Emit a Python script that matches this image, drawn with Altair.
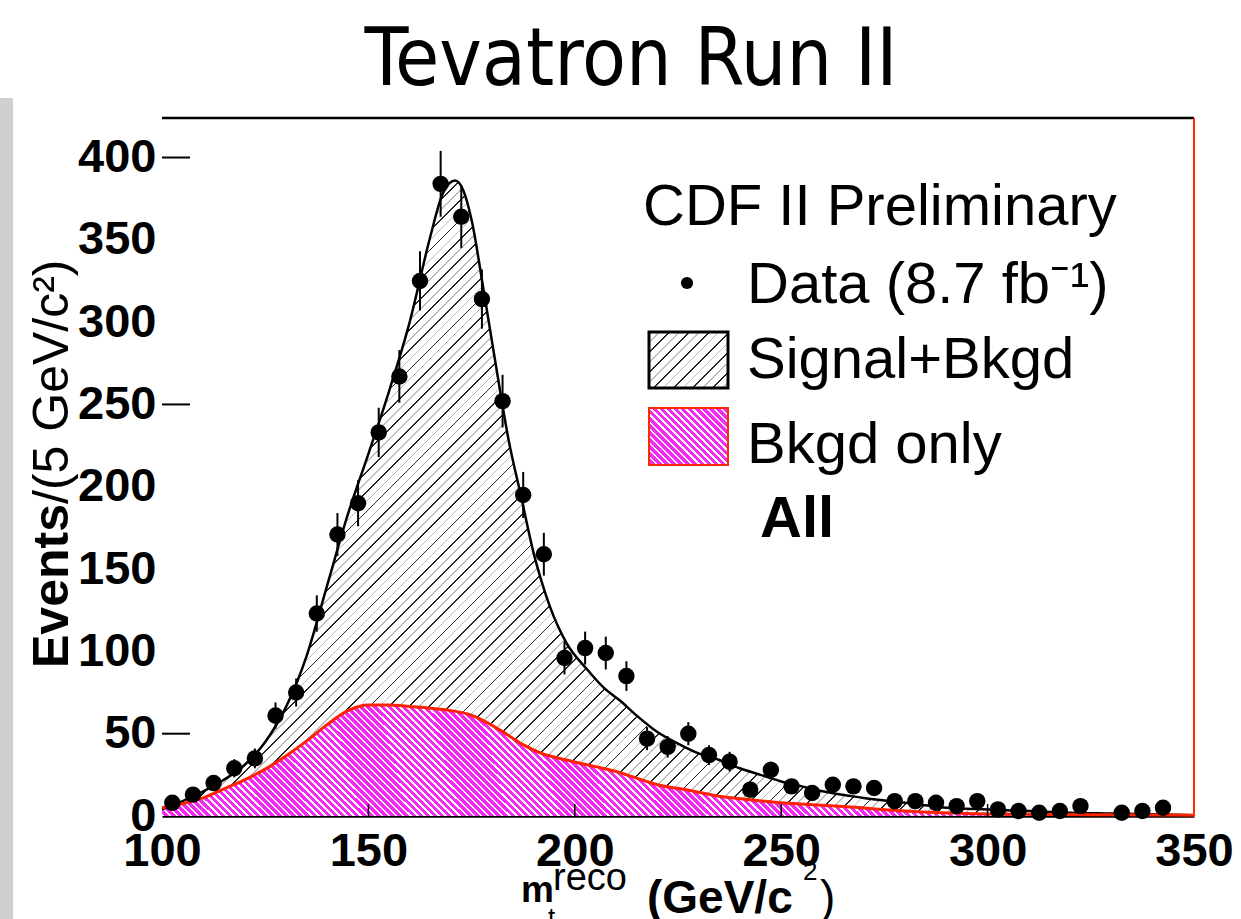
import math
import altair as alt
import pandas as pd

# ---------------- data ----------------
bin_centers = [102.5, 107.5, 112.5, 117.5, 122.5, 127.5, 132.5, 137.5, 142.5, 147.5,
               152.5, 157.5, 162.5, 167.5, 172.5, 177.5, 182.5, 187.5, 192.5, 197.5,
               202.5, 207.5, 212.5, 217.5, 222.5, 227.5, 232.5, 237.5, 242.5, 247.5,
               252.5, 257.5, 262.5, 267.5, 272.5, 277.5, 282.5, 287.5, 292.5, 297.5,
               302.5, 307.5, 312.5, 317.5, 322.5, 332.5, 337.5, 342.5]
counts = [8, 13, 20, 29, 35, 61, 75, 123, 171, 190,
          233, 267, 325, 384, 364, 314, 252, 195, 159, 96,
          102, 99, 85, 47, 42, 50, 37, 33, 16, 28,
          18, 14, 19, 18, 17, 9, 9, 8, 6, 9,
          4, 3, 2, 3, 6, 2, 3, 5]
errors = [3, 3.5, 4.5, 5.5, 6, 8, 8.5, 11, 13, 14,
          15, 16, 18, 20, 19, 18, 16, 14, 13, 10,
          10, 10, 9, 7, 6.5, 7, 6, 6, 4, 5,
          4, 4, 4, 4, 4, 3, 3, 3, 2.5, 3,
          2, 2, 1.5, 2, 2.5, 1.5, 2, 2]

sb_mass = [100, 105, 110, 115, 120, 125, 130, 135, 140, 145, 150, 155, 160, 165, 168,
           171, 173, 175, 178, 181, 184, 187, 190, 192, 194, 198, 203, 207, 211, 215,
           220, 225, 230, 235, 240, 245, 250, 255, 260, 270, 280, 290, 300, 310, 320,
           330, 340, 350]
sb_events = [4, 9, 15, 22, 31, 45, 66, 97, 140, 183, 220, 258, 300, 352, 378,
             386, 380, 362, 318, 272, 228, 194, 160, 142, 127, 105, 89, 78, 70, 61,
             51, 44, 38, 34, 29, 25, 21, 18, 15, 11, 8, 5, 4, 3, 2,
             1.5, 1, 0.5]

bkg_mass = [100, 105, 110, 115, 120, 125, 130, 135, 140, 145, 150, 155, 160, 165, 170,
            174, 177, 182, 187, 192, 198, 205, 210, 215, 220, 227, 235, 242, 250, 257,
            267, 276, 284, 295, 310, 330, 350]
bkg_events = [5, 7.5, 11, 16.5, 22, 28.5, 36.5, 45.5, 55.5, 64, 67.5, 67.5, 66.5, 65.5, 64,
              62, 59, 52, 44, 38, 34, 30, 27, 23, 19, 16, 12, 10, 8, 7,
              5.5, 3.6, 2.4, 1.5, 1, 0.7, 0.5]

x_tick_values = [100, 150, 200, 250, 300, 350]
y_tick_values = [0, 50, 100, 150, 200, 250, 300, 350, 400]
y_inner_ticks = [50, 250, 400]
x_inner_ticks = [150, 200, 250, 300]

# ---------------- layout ----------------
W, H = 1032, 698
X_DOMAIN = [100, 350]
Y_DOMAIN = [0, 424]
SANS = "Liberation Sans"
xs = alt.Scale(domain=X_DOMAIN, nice=False, zero=False)
ys = alt.Scale(domain=Y_DOMAIN, nice=False, zero=False)

points = pd.DataFrame({"m": bin_centers, "n": counts, "e": errors})
points["lo"] = points["n"] - points["e"]
points["hi"] = points["n"] + points["e"]
sb = pd.DataFrame({"m": sb_mass, "n": sb_events})
bkg = pd.DataFrame({"m": bkg_mass, "n": bkg_events})
one = pd.DataFrame({"k": [0]})


def stripe_gradient(bw, bh, period, bands, bg, direction="/"):
    s2 = math.sqrt(2)
    total = bw + bh
    a = total * bw / (bw * bw + bh * bh)
    if direction == "/":
        x1, y1, x2, y2 = 0, 0, a, a * bh / bw
    else:
        x1, y1, x2, y2 = 0, 1, a, 1 - a * bh / bw
    stops = []

    def add(t, c):
        if 0 <= t <= 1:
            stops.append(alt.GradientStop(offset=round(t, 6), color=c))

    add(0, bg)
    n = int(total / (period * s2)) + 2
    for k in range(n):
        base = k * period * s2
        for off, w, c in bands:
            t0 = (base + off * s2) / total
            t1 = (base + (off + w) * s2) / total
            add(t0, bg)
            add(t0, c)
            add(t1, c)
            add(t1, bg)
    add(1, bg)
    return alt.LinearGradient(gradient="linear", stops=stops, x1=x1, y1=y1, x2=x2, y2=y2)


sb_box_h = 386 / Y_DOMAIN[1] * H
bkg_box_h = 68 / Y_DOMAIN[1] * H
hatch_bands = [(0, 1.3, "#262626"), (7, 1.2, "#bdbdbd")]
pink_bands = [(0, 1.8, "#ffffff")]
sb_fill = stripe_gradient(W, sb_box_h, 14, hatch_bands, "#ffffff", "/")
bkg_fill = stripe_gradient(W, bkg_box_h, 5, pink_bands, "#f52af5", "\\")
sb_leg_fill = stripe_gradient(79, 56, 14, hatch_bands, "#ffffff", "/")
bkg_leg_fill = stripe_gradient(79, 57, 5, pink_bands, "#f52af5", "\\")

axis_x = alt.Axis(values=x_tick_values, title=None, labelFont=SANS, labelFontWeight="bold",
                  labelFontSize=47, labelColor="black", labelPadding=12, tickSize=0,
                  domainColor="black", domainWidth=2.5, grid=False, labelFlush=False,
                  labelOverlap=False, format="d")
axis_y = alt.Axis(values=y_tick_values, title=None, labelFont=SANS, labelFontWeight="bold",
                  labelFontSize=47, labelColor="black", labelPadding=6, tickSize=0,
                  domain=False, grid=False, labelFlush=False, labelOverlap=False, format="d")


def X(field):
    return alt.X(field, scale=xs, axis=axis_x)


def Y(field):
    return alt.Y(field, scale=ys, axis=axis_y)


strip = alt.Chart(one).mark_rect(color="#cfcfcf").encode(
    x=alt.value(-162), x2=alt.value(-149), y=alt.value(-20), y2=alt.value(H + 103))

sb_area = alt.Chart(sb).mark_area(fill=sb_fill, interpolate="monotone").encode(
    x=X("m:Q"), y=Y("n:Q"))
bkg_area = alt.Chart(bkg).mark_area(fill=bkg_fill, interpolate="monotone").encode(
    x=X("m:Q"), y=Y("n:Q"))
sb_line = alt.Chart(sb).mark_line(color="black", strokeWidth=2.5, interpolate="monotone").encode(
    x=X("m:Q"), y=Y("n:Q"))
bkg_line = alt.Chart(bkg).mark_line(color="#ff2200", strokeWidth=3, interpolate="monotone").encode(
    x=X("m:Q"), y=Y("n:Q"))

yt = alt.Chart(pd.DataFrame({"v": y_inner_ticks})).mark_rule(color="black", strokeWidth=2).encode(
    y=Y("v:Q"), x=alt.value(0), x2=alt.value(28))
xt = alt.Chart(pd.DataFrame({"v": x_inner_ticks})).mark_rule(color="black", strokeWidth=1.5).encode(
    x=X("v:Q"), y=alt.value(H), y2=alt.value(H - 12))

top_frame = alt.Chart(one).mark_rule(color="black", strokeWidth=2.5).encode(
    x=alt.value(0), x2=alt.value(W), y=alt.value(0))
right_frame = alt.Chart(one).mark_rule(color="#ff2a00", strokeWidth=2).encode(
    x=alt.value(W), y=alt.value(0), y2=alt.value(H))

err = alt.Chart(points).mark_rule(color="black", strokeWidth=2).encode(
    x=X("m:Q"), y=Y("lo:Q"), y2="hi:Q")
dots = alt.Chart(points).mark_circle(size=270, color="black", opacity=1).encode(
    x=X("m:Q"), y=Y("n:Q"))


def txt(s, x, y, size, weight="normal", align="left", font=SANS, angle=None, baseline="alphabetic"):
    kw = dict(text=s, fontSize=size, fontWeight=weight, align=align, font=font,
              baseline=baseline, color="black")
    if angle is not None:
        kw["angle"] = angle
    return alt.Chart(one).mark_text(**kw).encode(x=alt.value(x), y=alt.value(y))


def box(x, x2, y, y2, fill, stroke, sw):
    return alt.Chart(one).mark_rect(fill=fill, stroke=stroke, strokeWidth=sw).encode(
        x=alt.value(x), x2=alt.value(x2), y=alt.value(y), y2=alt.value(y2))


legend = [
    txt("CDF II Preliminary", 481, 107, 58),
    alt.Chart(one).mark_circle(size=150, color="black", opacity=1).encode(
        x=alt.value(525), y=alt.value(165)),
    txt("Data (8.7 fb\u207b\u00b9)", 585, 185, 58),
    box(487, 566, 214, 270, sb_leg_fill, "black", 3),
    txt("Signal+Bkgd", 585, 260, 58),
    box(487, 566, 290, 347, bkg_leg_fill, "#ff2a00", 2),
    txt("Bkgd only", 585, 345, 58),
    txt("All", 598, 419, 58, weight="bold"),
]

titles = [
    txt("Tevatron Run II", 469, -33, 80, font="DejaVu Sans Condensed, DejaVu Sans", align="center"),
    # y axis title
    txt("Events", -94, 550, 50, weight="bold", angle=270),
    txt("/(5 GeV/c\u00b2)", -94, 386, 50, angle=270),
    # x axis title
    txt("m", 359, 784, 37, weight="bold"),
    txt("reco", 391, 772, 38),
    txt("t", 386, 808, 26),
    txt("(GeV/c", 485, 795, 46, weight="bold"),
    txt("2", 641, 762, 26),
    txt(")", 658, 795, 46),
]

chart = alt.layer(
    strip, sb_area, bkg_area, sb_line, bkg_line, xt, yt, top_frame, right_frame,
    err, dots, *legend, *titles
).properties(
    width=W, height=H,
    padding={"left": 162, "top": 118, "right": 47, "bottom": 103},
    autosize=alt.AutoSizeParams(type="none"),
    background="white",
).configure_view(stroke=None)

chart.save("out.html", embed_options={"renderer": "svg", "actions": False})
